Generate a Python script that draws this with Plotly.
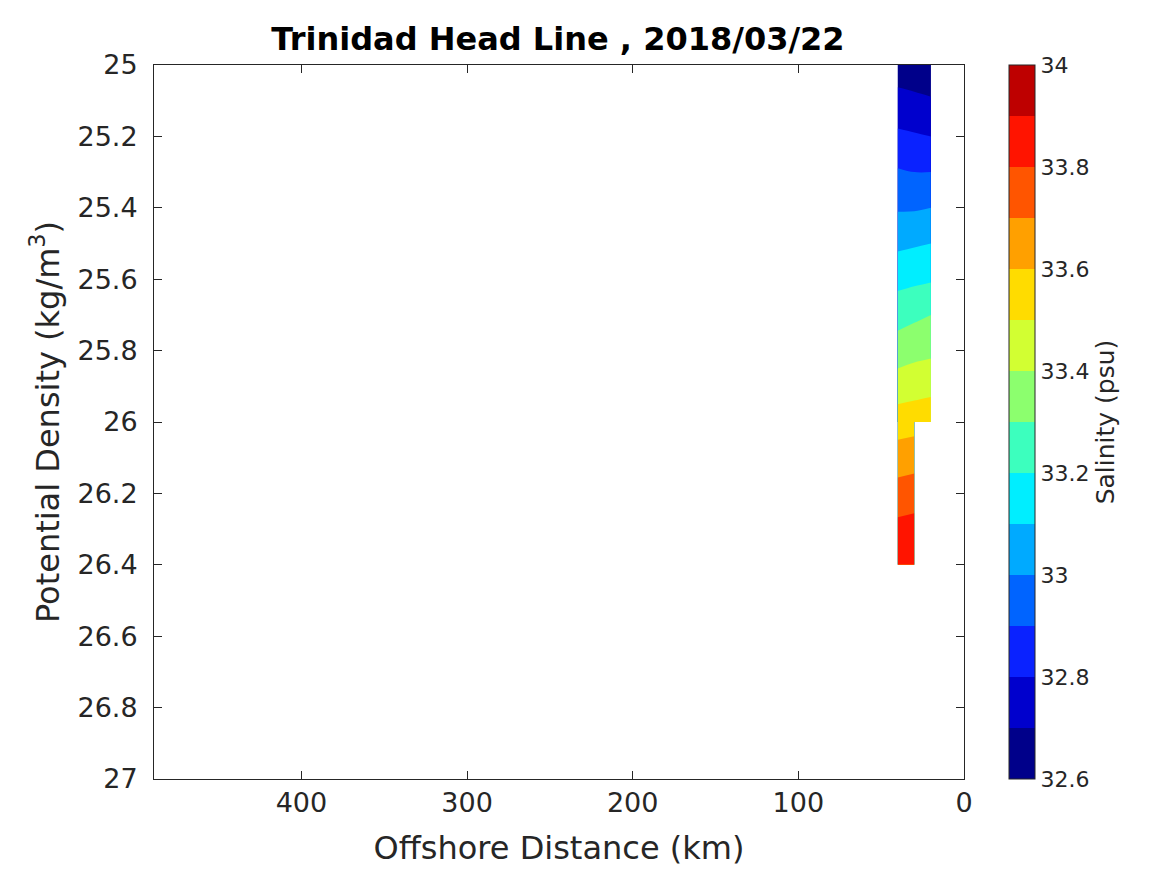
import plotly.graph_objects as go

# ---------------- data ----------------
distance_km = [20, 30, 40]
sigma_theta = [25.0, 25.1, 25.2, 25.3, 25.4, 25.5, 25.6, 25.7, 25.8, 25.9,
               26.0, 26.1, 26.2, 26.3, 26.4]
# salinity (psu) profiles at each station along sigma_theta
sal_20km = [32.62, 32.71, 32.80, 32.90, 33.00, 33.10, 33.19, 33.30, 33.38, 33.47,
            33.57]  # station ends at 26.0
sal_30km = [32.64, 32.72, 32.81, 32.90, 32.99, 33.09, 33.18, 33.28, 33.37, 33.46,
            33.56, 33.66, 33.75, 33.84, 33.89]
sal_40km = [32.65, 32.73, 32.82, 32.91, 32.99, 33.08, 33.17, 33.26, 33.35, 33.45,
            33.55, 33.65, 33.74, 33.83, 33.88]

levels_start, levels_end, levels_step = 32.6, 34.0, 0.1
x_ticks = [0, 100, 200, 300, 400]
y_ticks = [25, 25.2, 25.4, 25.6, 25.8, 26, 26.2, 26.4, 26.6, 26.8, 27]
y_ticklabels = ["25", "25.2", "25.4", "25.6", "25.8", "26", "26.2", "26.4",
                "26.6", "26.8", "27"]
cb_ticks = [32.6, 32.8, 33.0, 33.2, 33.4, 33.6, 33.8, 34.0]
cb_ticklabels = ["32.6", "32.8", "33", "33.2", "33.4", "33.6", "33.8", "34"]

# ---------------- style ----------------
band_colors = ["#00008A", "#0000CD", "#0A22FF", "#0064FF", "#00AAFF", "#00EEFF",
               "#3CFFBE", "#8CFF6E", "#D2FF32", "#FFDC00", "#FFA000", "#FF5500",
               "#FF1400", "#BE0000"]
FONT = "DejaVu Sans"
TXT = "#262626"

n_bands = len(band_colors)
# contour fill colorscale: band k is sampled at s=(k+1)/(n_bands+1)
N = n_bands + 1
fill_scale = []
all_cols = [band_colors[0]] + band_colors + [band_colors[-1]]
for i, c in enumerate(all_cols):
    lo = max(0.0, (i - 0.5) / N)
    hi = min(1.0, (i + 0.5) / N)
    fill_scale.append([lo, c])
    fill_scale.append([hi, c])

# colorbar colorscale: stepped over [32.6, 34]
cb_scale = []
for k, c in enumerate(band_colors):
    cb_scale.append([k / n_bands, c])
    cb_scale.append([(k + 1) / n_bands, c])

contour_common = dict(
    contours=dict(start=levels_start, end=levels_end, size=levels_step,
                  coloring="fill", showlines=False),
    autocontour=False,
    colorscale=fill_scale,
    line=dict(width=0),
    showscale=False,
    hoverinfo="skip",
)

n_sh = len(sal_20km)
# deep part: stations 30 and 40 km over the full profile
z_deep = [[a, b] for a, b in zip(sal_30km, sal_40km)]
# upper part: all three stations down to where the 20 km profile ends
z_upper = [[a, b, c] for a, b, c in zip(sal_20km, sal_30km[:n_sh], sal_40km[:n_sh])]

fig = go.Figure()
fig.add_trace(go.Contour(x=distance_km[1:], y=sigma_theta, z=z_deep, **contour_common))
fig.add_trace(go.Contour(x=distance_km, y=sigma_theta[:n_sh], z=z_upper, **contour_common))

# colorbar carrier (no visible marks)
fig.add_trace(go.Scatter(
    x=[None], y=[None], mode="markers", showlegend=False, hoverinfo="skip",
    marker=dict(color=[levels_start], cmin=levels_start, cmax=levels_end,
                colorscale=cb_scale, showscale=True,
                colorbar=dict(
                    x=(1009 - 152) / 812, xanchor="left", xref="paper",
                    xpad=0, ypad=0,
                    y=0.5, yanchor="middle", len=1, lenmode="fraction",
                    thickness=26, outlinecolor=TXT, outlinewidth=1,
                    tickvals=cb_ticks, ticktext=cb_ticklabels, ticks="",
                    tickfont=dict(family=FONT, size=22, color=TXT),
                    title=dict(text="Salinity (psu)", side="right",
                               font=dict(family=FONT, size=25, color=TXT)),
                ))))

axis_common = dict(
    showgrid=False, zeroline=False, showline=True, linecolor=TXT, linewidth=1,
    mirror="ticks", ticks="inside", ticklen=8, tickcolor=TXT,
    tickfont=dict(family=FONT, size=27, color=TXT),
)

fig.update_layout(
    width=1167, height=875,
    margin=dict(l=146, r=211, t=57, b=104),
    paper_bgcolor="white", plot_bgcolor="white",
    showlegend=False,
    title=dict(text="<b>Trinidad Head Line , 2018/03/22</b>",
               x=(556 - 6) / 1167, xanchor="center", xref="container",
               y=1 - 31 / 875, yanchor="middle", yref="container",
               font=dict(family=FONT, size=32, color="black")),
    xaxis=dict(range=[489, 0], tickvals=x_ticks,
               title=dict(text="Offshore Distance (km)", standoff=19,
                          font=dict(family=FONT, size=32, color=TXT)),
               **axis_common),
    yaxis=dict(range=[27, 25], tickvals=y_ticks, ticktext=y_ticklabels,
               title=dict(text="Potential Density (kg/m<sup>3</sup>)", standoff=8,
                          font=dict(family=FONT, size=32, color=TXT)),
               ticklabelstandoff=10,
               **axis_common),
)

fig.write_html("out.html")
